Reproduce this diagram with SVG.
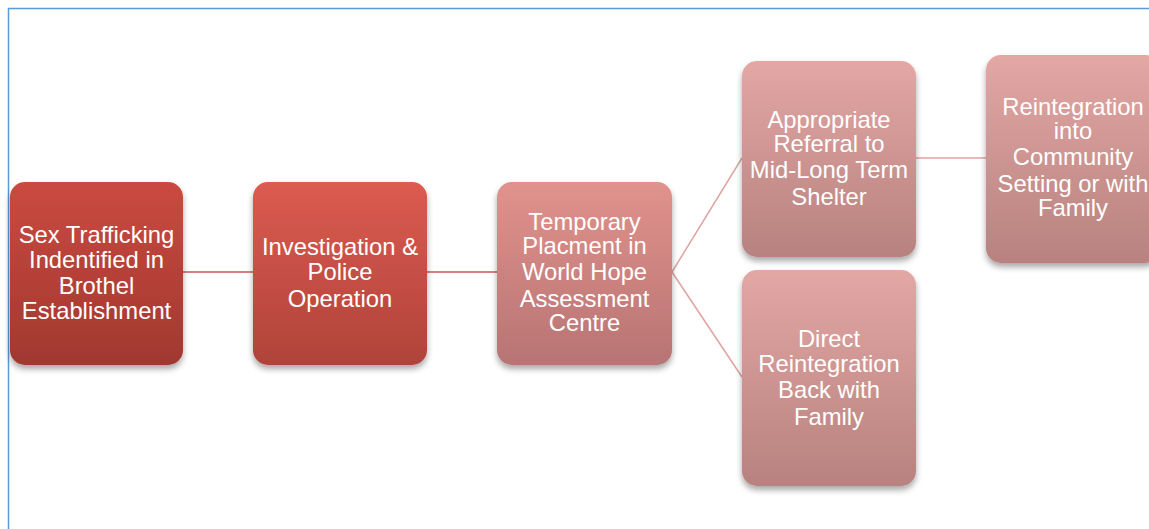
<svg xmlns="http://www.w3.org/2000/svg" width="1149" height="529" viewBox="0 0 1149 529">
<defs>
<linearGradient id="g1" x1="0" y1="0" x2="0" y2="1"><stop offset="0" stop-color="#ca4a40"/><stop offset="1" stop-color="#a13830"/></linearGradient>
<linearGradient id="g2" x1="0" y1="0" x2="0" y2="1"><stop offset="0" stop-color="#dc5b50"/><stop offset="1" stop-color="#af433a"/></linearGradient>
<linearGradient id="g3" x1="0" y1="0" x2="0" y2="1"><stop offset="0" stop-color="#e1928c"/><stop offset="1" stop-color="#b77473"/></linearGradient>
<linearGradient id="g4" x1="0" y1="0" x2="0" y2="1"><stop offset="0" stop-color="#e3a7a4"/><stop offset="1" stop-color="#b7827f"/></linearGradient>
<filter id="sh" x="-20%" y="-20%" width="140%" height="140%">
<feGaussianBlur in="SourceAlpha" stdDeviation="3"/>
<feOffset dx="0" dy="4" result="b"/>
<feComponentTransfer><feFuncA type="linear" slope="0.35"/></feComponentTransfer>
<feMerge><feMergeNode/><feMergeNode in="SourceGraphic"/></feMerge>
</filter>
</defs>
<style>
.t{font-family:"Liberation Sans",Arial,sans-serif;font-size:23.8px;fill:#ffffff;text-anchor:middle}
.c1{stroke:#c85a52;stroke-width:1.5;fill:none}
.c2{stroke:#dfa3a0;stroke-width:1.5;fill:none}
</style>
<rect width="1149" height="529" fill="#ffffff"/>
<path d="M8.5 529 V8.5 H1149" fill="none" stroke="#5b9bd5" stroke-width="1.5"/>
<g id="connectors">
<line class="c1" x1="183" y1="272" x2="253" y2="272"/>
<line class="c1" x1="427" y1="272" x2="497" y2="272"/>
<line class="c2" x1="672" y1="272" x2="742" y2="158"/>
<line class="c2" x1="672" y1="272" x2="742" y2="377"/>
<line class="c2" x1="916" y1="158" x2="986" y2="158"/>
</g>
<g id="n1"><rect x="10" y="182" width="173" height="183" rx="15" fill="url(#g1)" filter="url(#sh)"/>
<text class="t" x="96.5" y="243">Sex Trafficking</text><text class="t" x="96.5" y="268">Indentified in</text><text class="t" x="96.5" y="294">Brothel</text><text class="t" x="96.5" y="319">Establishment</text></g>
<g id="n2"><rect x="253" y="182" width="174" height="183" rx="15" fill="url(#g2)" filter="url(#sh)"/>
<text class="t" x="340" y="255">Investigation &amp;</text><text class="t" x="340" y="280">Police</text><text class="t" x="340" y="307">Operation</text></g>
<g id="n3"><rect x="497" y="182" width="175" height="183" rx="15" fill="url(#g3)" filter="url(#sh)"/>
<text class="t" x="584.5" y="230">Temporary</text><text class="t" x="584.5" y="254">Placment in</text><text class="t" x="584.5" y="280">World Hope</text><text class="t" x="584.5" y="307">Assessment</text><text class="t" x="584.5" y="331">Centre</text></g>
<g id="n4"><rect x="742" y="61" width="174" height="196" rx="15" fill="url(#g4)" filter="url(#sh)"/>
<text class="t" x="829" y="128">Appropriate</text><text class="t" x="829" y="152">Referral to</text><text class="t" x="829" y="178">Mid-Long Term</text><text class="t" x="829" y="205">Shelter</text></g>
<g id="n5"><rect x="986" y="55" width="174" height="208" rx="15" fill="url(#g4)" filter="url(#sh)"/>
<text class="t" x="1073" y="115">Reintegration</text><text class="t" x="1073" y="139">into</text><text class="t" x="1073" y="165">Community</text><text class="t" x="1073" y="192">Setting or with</text><text class="t" x="1073" y="216">Family</text></g>
<g id="n6"><rect x="742" y="270" width="174" height="216" rx="15" fill="url(#g4)" filter="url(#sh)"/>
<text class="t" x="829" y="347">Direct</text><text class="t" x="829" y="372">Reintegration</text><text class="t" x="829" y="398">Back with</text><text class="t" x="829" y="425">Family</text></g>
</svg>
